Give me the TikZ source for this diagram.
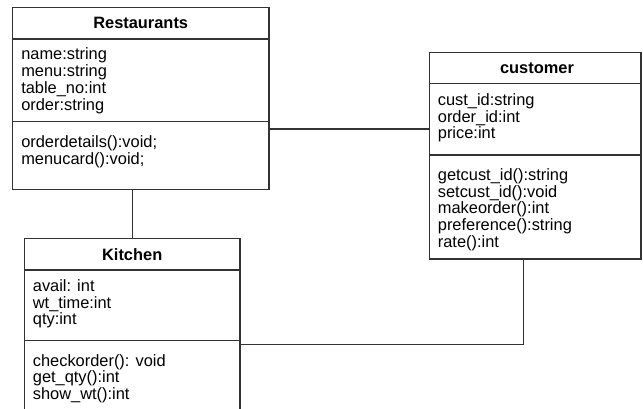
\documentclass[tikz,border=0pt]{standalone}
\usepackage{fontspec}
\setmainfont{Liberation Sans}
\usetikzlibrary{fit}

\tikzset{every picture/.style={line width=0.9pt}}
\tikzset{
  classbox/.style={draw=black!80, inner sep=0pt},
  classname/.style={inner sep=0pt, font=\fontsize{12.3}{12.6}\selectfont\bfseries},
  member/.style={anchor=base west, inner sep=0pt, font=\fontsize{12.3}{12.6}\selectfont},
  link/.style={draw=black!80}
}

\begin{document}
\begin{tikzpicture}[x=0.75pt,y=0.75pt,yscale=-1,xscale=1]
\clip (0,0) rectangle (643,408);

%Restaurants
\node (rest) [classbox, fit={(12.3,7.3) (269,189.3)}] {};
\draw [draw=black!80] (12.3,39) -- (269,39) ;
\draw [draw=black!80] (12.3,121.7) -- (269,121.7) ;
\node (restName) [classname] at (140.7,23.2) {Restaurants};
\foreach \txt [count=\i] in {name:string, menu:string, table\_no:int, order:string}
  \node (restAttr\i) [member] at (20.7,{59.8+16.8*(\i-1)}) {\txt};
\foreach \txt [count=\i] in {orderdetails():void;, menucard():void;}
  \node (restOp\i) [member] at (20.7,{147.6+16.8*(\i-1)}) {\txt};

%customer
\node (cust) [classbox, fit={(429.3,52.7) (641,259)}] {};
\draw [draw=black!80] (429.3,83.7) -- (641,83.7) ;
\draw [draw=black!80] (429.3,155) -- (641,155) ;
\node (custName) [classname] at (537,68.2) {customer};
\foreach \txt [count=\i] in {cust\_id:string, order\_id:int, price:int}
  \node (custAttr\i) [member] at (437.3,{105.3+16.8*(\i-1)}) {\txt};
\foreach \txt [count=\i] in {getcust\_id():string, setcust\_id():void, makeorder():int, preference():string, rate():int}
  \node (custOp\i) [member] at (437.3,{180.3+16.8*(\i-1)}) {\txt};

%Kitchen
\node (kit) [classbox, fit={(24.3,238.3) (240,414)}] {};
\draw [draw=black!80] (24.3,270) -- (240,270) ;
\draw [draw=black!80] (24.3,340.7) -- (240,340.7) ;
\node (kitName) [classname] at (132.2,254.2) {Kitchen};
\foreach \txt [count=\i] in {avail: int, wt\_time:int, qty:int}
  \node (kitAttr\i) [member] at (32.3,{291.2+16.8*(\i-1)}) {\txt};
\foreach \txt [count=\i] in {checkorder(): void, get\_qty():int, show\_wt():int}
  \node (kitOp\i) [member] at (32.3,{366+16.8*(\i-1)}) {\txt};

%Associations
\coordinate (rcLevel) at (0,129);
\coordinate (kcBend) at (523.7,344.3);
\draw [link] (rest.east |- rcLevel) -- (cust.west |- rcLevel) ;
\draw [link] (kit.north |- rest.south) -- (kit.north) ;
\draw [link] (kit.east |- kcBend) -- (kcBend) -- (cust.south -| kcBend) ;

\end{tikzpicture}
\end{document}
